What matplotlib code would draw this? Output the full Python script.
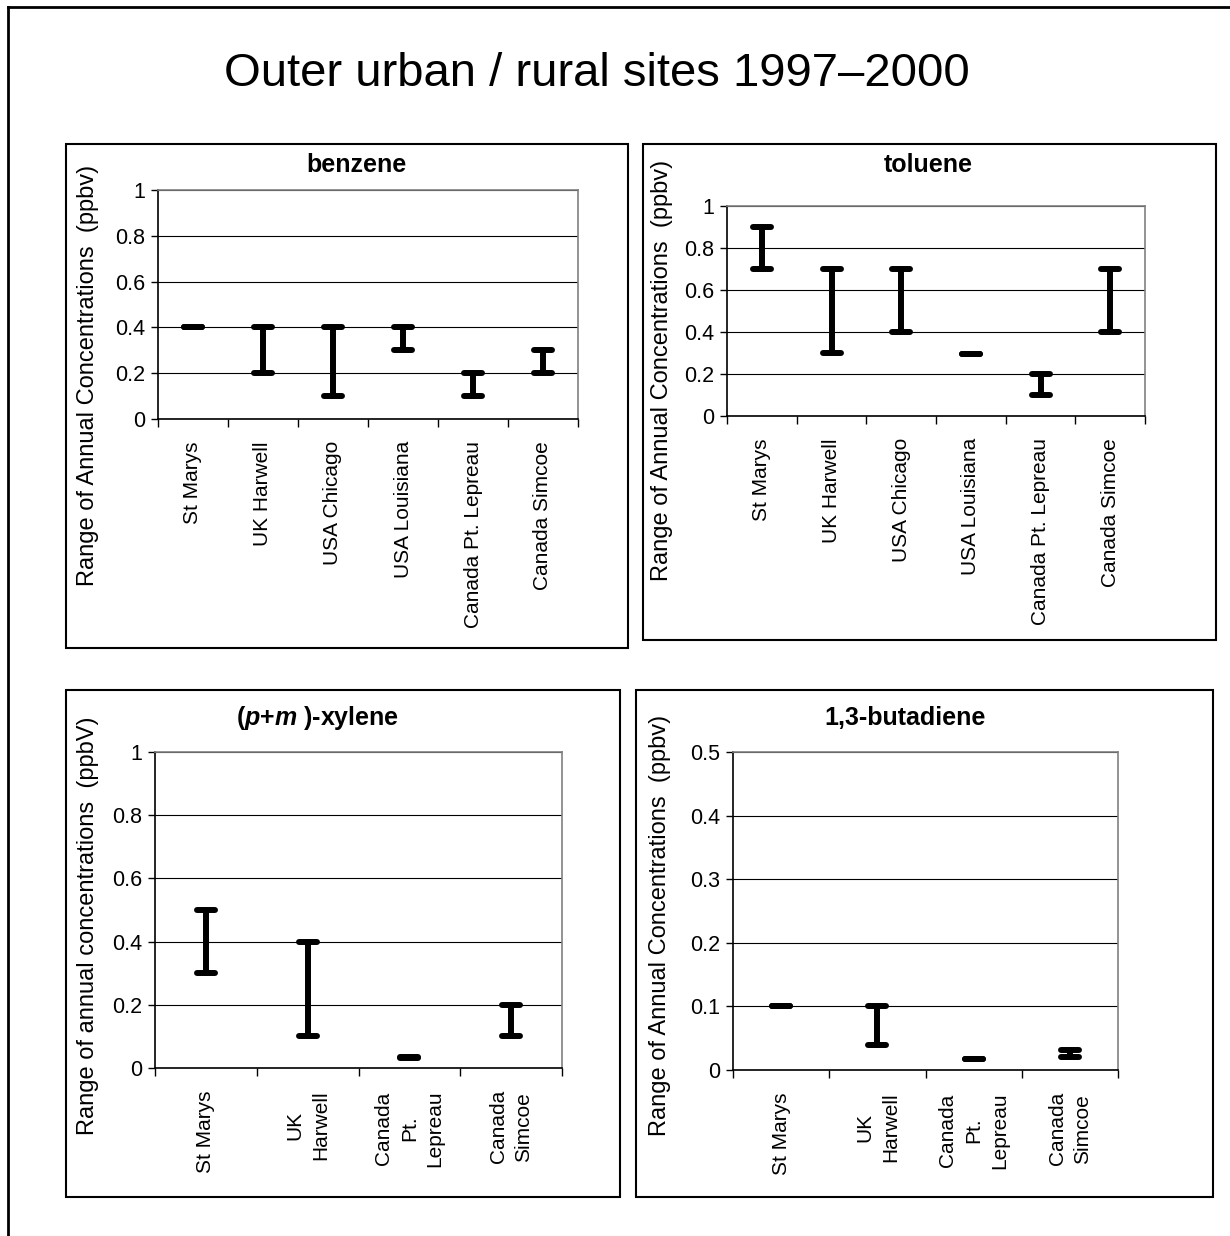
import matplotlib.pyplot as plt
from matplotlib.patches import Rectangle
from matplotlib.lines import Line2D

plt.rcParams['font.family'] = ['Liberation Sans', 'DejaVu Sans']
plt.rcParams['mathtext.fontset'] = 'custom'
plt.rcParams['mathtext.rm'] = 'Liberation Sans'
plt.rcParams['mathtext.bfit'] = 'Liberation Sans:italic:bold'

# data (ppbv)
sites_6 = ['St Marys', 'UK Harwell', 'USA Chicago', 'USA Louisiana',
           'Canada Pt. Lepreau', 'Canada Simcoe']
sites_4 = ['St Marys', 'UK\nHarwell', 'Canada\nPt.\nLepreau', 'Canada\nSimcoe']

benzene_low = [0.4, 0.2, 0.1, 0.3, 0.1, 0.2]
benzene_high = [0.4, 0.4, 0.4, 0.4, 0.2, 0.3]
toluene_low = [0.7, 0.3, 0.4, 0.295, 0.1, 0.4]
toluene_high = [0.9, 0.7, 0.7, 0.295, 0.2, 0.7]
xylene_low = [0.3, 0.1, 0.031, 0.1]
xylene_high = [0.5, 0.4, 0.036, 0.2]
butadiene_low = [0.1, 0.04, 0.018, 0.02]
butadiene_high = [0.1, 0.1, 0.018, 0.031]

W, H = 1230, 1236
fig = plt.figure(figsize=(W / 100, H / 100), dpi=100)


def fx(x):
    return x / W


def fy(y):
    return 1 - y / H


# outer frame (top and left edges only are visible)
fig.add_artist(Line2D([fx(8), 1], [fy(7), fy(7)], color='black', lw=2))
fig.add_artist(Line2D([fx(8), fx(8)], [fy(7), 0], color='black', lw=2))

fig.text(fx(597), fy(74), 'Outer urban / rural sites 1997\u20132000',
         fontsize=34, ha='center', va='center')

panels = [
    # title, ylabel, sites, low, high, ymax, ystep, box px, axes px, title xy, ylabel xy
    ('benzene', 'Range of Annual Concentrations  (ppbv)', sites_6,
     benzene_low, benzene_high, 1.0, 0.2,
     (66, 144, 628, 648), (158, 190, 578, 419), (356, 165), (88, 375)),
    ('toluene', 'Range of Annual Concentrations  (ppbv)', sites_6,
     toluene_low, toluene_high, 1.0, 0.2,
     (643, 144, 1216, 640), (727, 206, 1145, 416), (928, 165), (662, 370)),
    ('(' + r'$\mathbfit{p}$' + '+' + r'$\mathbfit{m}$' + ' )-xylene',
     'Range of annual concentrations  (ppbV)', sites_4,
     xylene_low, xylene_high, 1.0, 0.2,
     (66, 690, 620, 1197), (155, 752, 562, 1068), (318, 718), (88, 926)),
    ('1,3-butadiene', 'Range of Annual Concentrations  (ppbv)', sites_4,
     butadiene_low, butadiene_high, 0.5, 0.1,
     (636, 690, 1213, 1197), (733, 752, 1118, 1070), (905, 718), (660, 925)),
]

for (title, ylabel, sites, low, high, ymax, ystep,
     box, axbox, tpos, ypos) in panels:
    bx0, by0, bx1, by1 = box
    fig.add_artist(Rectangle((fx(bx0), fy(by1)), fx(bx1 - bx0), (by1 - by0) / H,
                             fill=False, edgecolor='black', lw=1.5,
                             transform=fig.transFigure))
    ax0, ay0, ax1, ay1 = axbox
    ax = fig.add_axes([fx(ax0), fy(ay1), fx(ax1 - ax0), (ay1 - ay0) / H])

    n = len(sites)
    xs = [i + 0.5 for i in range(n)]
    cap = 9.0 / (ax1 - ax0) * n  # half cap width in data units
    ax.vlines(xs, low, high, color='black', lw=4.3, capstyle='round', zorder=3)
    ax.hlines(low, [x - cap for x in xs], [x + cap for x in xs],
              color='black', lw=4.3, capstyle='round', zorder=3)
    ax.hlines(high, [x - cap for x in xs], [x + cap for x in xs],
              color='black', lw=4.3, capstyle='round', zorder=3)

    ax.set_xlim(0, n)
    ax.set_ylim(0, ymax)
    yt = [round(k * ystep, 2) for k in range(int(round(ymax / ystep)) + 1)]
    ax.set_yticks(yt)
    ax.set_yticklabels([f'{v:g}' for v in yt], fontsize=15.5)
    ax.yaxis.grid(True, color='black', lw=0.8)
    ax.set_axisbelow(True)

    ax.set_xticks(xs)
    ax.set_xticklabels(sites, rotation=90, fontsize=15, ha='center', va='top',
                       multialignment='center', linespacing=1.45)
    ax.set_xticks(range(n + 1), minor=True)
    ax.tick_params(axis='x', which='major', length=0, pad=16)
    ax.tick_params(axis='x', which='minor', length=6, width=1, direction='out')
    ax.tick_params(axis='y', length=5, width=1, direction='out', pad=4)

    for s in ('left', 'bottom'):
        ax.spines[s].set_color('black')
        ax.spines[s].set_linewidth(1.2)
    for s in ('top', 'right'):
        ax.spines[s].set_color('#808080')
        ax.spines[s].set_linewidth(1.2)

    fig.text(fx(tpos[0]), fy(tpos[1]), title, fontsize=18, fontweight='bold',
             ha='center', va='center')
    fig.text(fx(ypos[0]), fy(ypos[1]), ylabel, fontsize=17, rotation=90,
             ha='center', va='center')

fig.savefig('out.png', dpi=100)
